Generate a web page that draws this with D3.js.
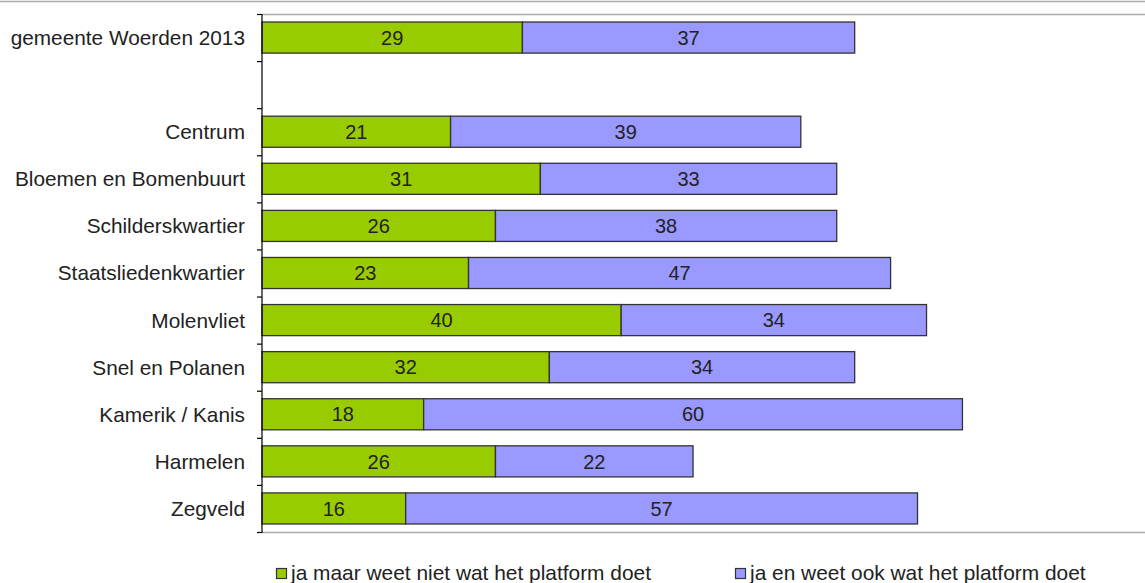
<!DOCTYPE html>
<html><head><meta charset="utf-8">
<script src="https://cdn.jsdelivr.net/npm/d3@7"></script>
<style>body{margin:0;background:#fff;}svg{display:block;font-family:"Liberation Sans",Arial,sans-serif;}</style>
</head><body>
<svg id="c" width="1145" height="583"></svg>
<script>
const categories = ["gemeente Woerden 2013", "", "Centrum", "Bloemen en Bomenbuurt", "Schilderskwartier", "Staatsliedenkwartier", "Molenvliet", "Snel en Polanen", "Kamerik / Kanis", "Harmelen", "Zegveld"];
const seriesNames = ["ja maar weet niet wat het platform doet", "ja en weet ook wat het platform doet"];
const greenValues = [29, null, 21, 31, 26, 23, 40, 32, 18, 26, 16];
const purpleValues = [37, null, 39, 33, 38, 47, 34, 34, 60, 22, 57];
const colors = ["#99CC00", "#9999FF"];

const svg = d3.select("#c");
const W = 1145;
const x = d3.scaleLinear().domain([0, 100]).range([262, 1160]);
const y = d3.scaleBand().domain(d3.range(categories.length)).range([14, 532]).paddingInner(0.34).paddingOuter(0.17);

svg.append("line").attr("x1",0).attr("x2",W).attr("y1",1.5).attr("y2",1.5).attr("stroke","#aaa").attr("stroke-width",1.5);
svg.append("line").attr("x1",262).attr("x2",W).attr("y1",14.5).attr("y2",14.5).attr("stroke","#aaa").attr("stroke-width",1.5);
svg.append("line").attr("x1",262).attr("x2",W).attr("y1",532.5).attr("y2",532.5).attr("stroke","#aaa").attr("stroke-width",1.5);

const rows = categories.map((c,i)=>({c,i,g:greenValues[i],p:purpleValues[i]})).filter(d=>d.g!=null);
const segs = [];
rows.forEach(d=>{
  segs.push({i:d.i, x0:0, x1:d.g, v:d.g, s:0});
  segs.push({i:d.i, x0:d.g, x1:d.g+d.p, v:d.p, s:1});
});

svg.append("g").selectAll("rect").data(segs).join("rect")
  .attr("x",d=>x(d.x0)).attr("y",d=>y(d.i))
  .attr("width",d=>x(d.x1)-x(d.x0)).attr("height",y.bandwidth())
  .attr("fill",d=>colors[d.s]).attr("stroke","#333").attr("stroke-width",1.3);

svg.append("g").selectAll("text").data(segs).join("text")
  .attr("x",d=>(x(d.x0)+x(d.x1))/2).attr("y",d=>y(d.i)+y.bandwidth()/2)
  .attr("dy","0.36em").attr("text-anchor","middle")
  .attr("font-size",20).attr("fill","#222").text(d=>d.v);

const yAxis = d3.axisLeft(d3.scaleLinear().domain([0,categories.length]).range([14,532]))
  .tickValues(d3.range(categories.length+1)).tickSize(5).tickFormat("");
const ga = svg.append("g").attr("transform","translate(262,0)").call(yAxis);
ga.selectAll("path,line").attr("stroke","#000").attr("stroke-width",1.2);
ga.select(".domain").attr("d","M-5,14.5H0V532.5H-5");

svg.append("g").selectAll("text").data(categories.map((c,i)=>({c,i})).filter(d=>d.c)).join("text")
  .attr("x",245).attr("y",d=>y(d.i)+y.bandwidth()/2).attr("dy","0.36em")
  .attr("text-anchor","end").attr("font-size",20.8).attr("fill","#222").text(d=>d.c);

const legX = [276, 735];
const lg = svg.append("g").selectAll("g").data(seriesNames).join("g")
  .attr("transform",(d,i)=>`translate(${legX[i]},0)`);
lg.append("rect").attr("x",0.5).attr("y",568.5).attr("width",10).attr("height",10)
  .attr("fill",(d,i)=>colors[i]).attr("stroke","#333").attr("stroke-width",1.2);
lg.append("text").attr("x",15).attr("y",580).attr("font-size",20.9).attr("fill","#222").text(d=>d);
</script>
</body></html>
